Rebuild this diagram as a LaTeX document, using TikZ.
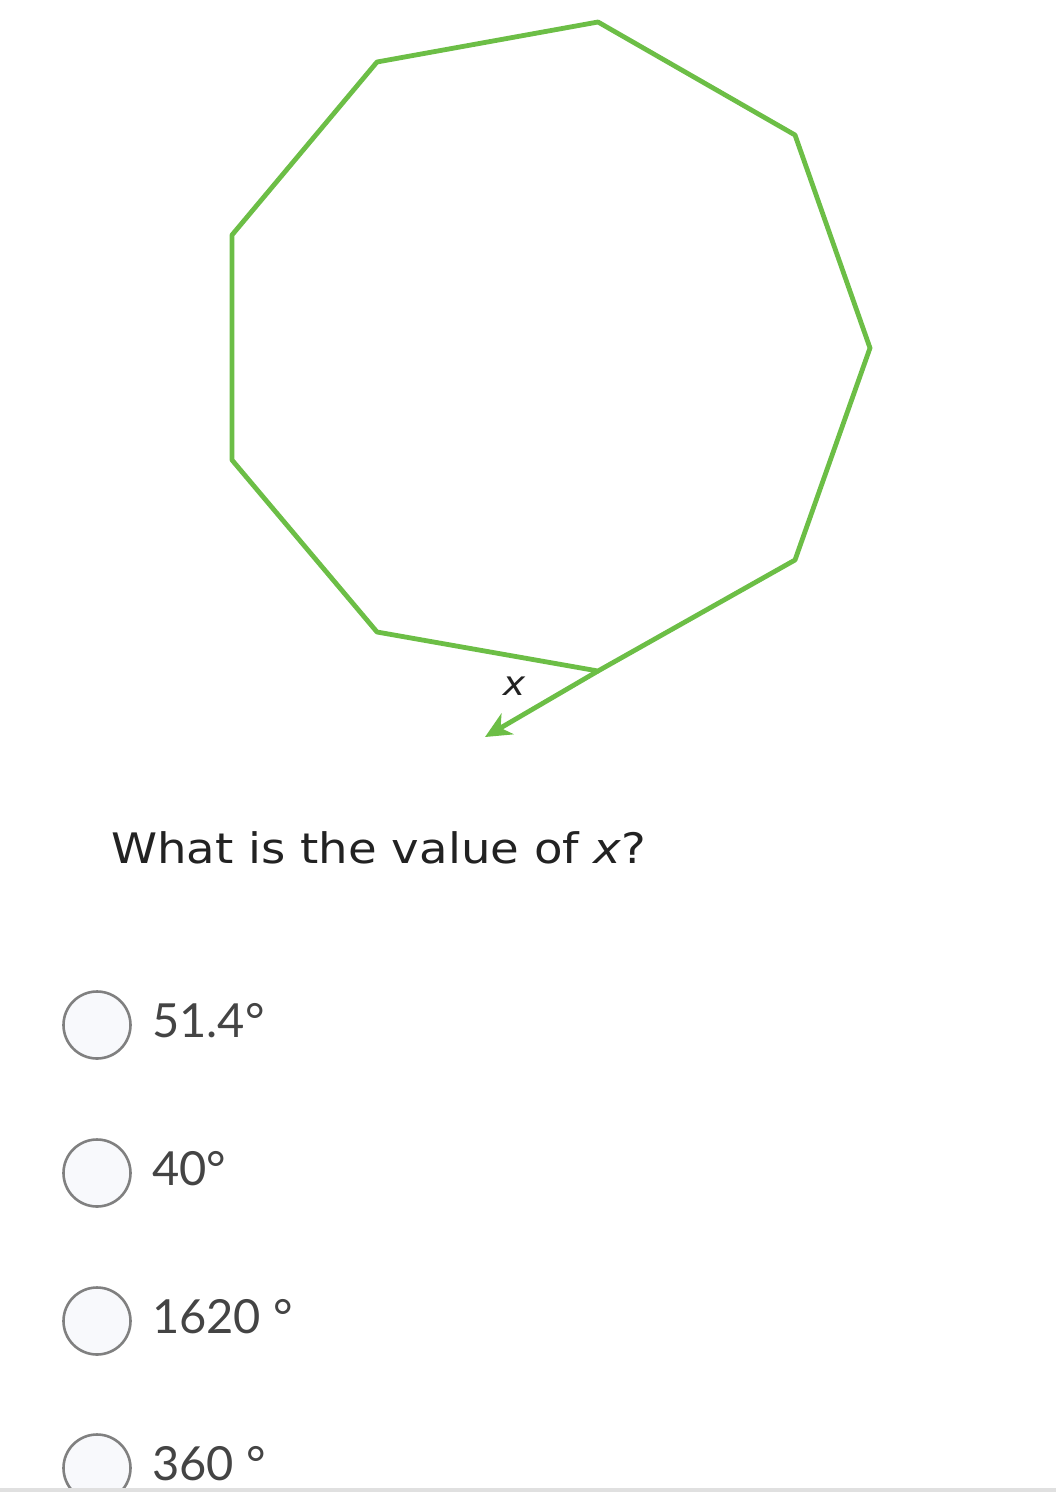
\documentclass[tikz,border=0pt]{standalone}
\usepackage{fontspec}
\setmainfont{DejaVu Sans}
\newfontfamily\qfont[FakeStretch=1.11]{DejaVu Sans}
\newfontfamily\lato{Lato}
\usetikzlibrary{arrows.meta}
\definecolor{polygreen}{RGB}{108,190,70}
\definecolor{qtext}{RGB}{34,34,34}
\definecolor{atext}{RGB}{68,68,68}
\definecolor{radiostroke}{RGB}{128,128,128}
\definecolor{radiofill}{RGB}{248,249,252}
\definecolor{rule}{RGB}{224,224,224}
\tikzset{
  polyedge/.style={draw=polygreen, line width=4.8pt, line join=round, line cap=round},
  radio/.style={circle, draw=radiostroke, fill=radiofill, line width=2.6pt, minimum size=67pt, inner sep=0pt},
  answer/.style={anchor=base west, inner sep=0pt, text=atext, font=\lato\fontsize{47}{56}\selectfont},
}
\begin{document}
\begin{tikzpicture}[x=1pt,y=-1pt]
\useasboundingbox (0,0) rectangle (1056,1494);
% nonagon vertices
\coordinate (v1) at (598,22);
\coordinate (v2) at (795,135);
\coordinate (v3) at (870,348);
\coordinate (v4) at (795,560);
\coordinate (v5) at (598,671);
\coordinate (v6) at (377,632);
\coordinate (v7) at (232,460);
\coordinate (v8) at (232,235);
\coordinate (v9) at (377,62);
\coordinate (tip) at (485,737);
\draw[polyedge] (v1) -- (v2) -- (v3) -- (v4) -- (v5) -- (v6) -- (v7) -- (v8) -- (v9) -- cycle;
\draw[polyedge, line cap=butt, -{Stealth[length=26pt,width=24pt,inset=8pt]}] (v5) -- (tip);
\node[text=qtext, font=\qfont\fontsize{34}{40}\selectfont\itshape, inner sep=0pt] (xlab) at (514,686) {x};
% question
\node[anchor=base west, inner sep=0pt, text=qtext, font=\qfont\fontsize{42}{50}\selectfont] (q) at (111,863) {What is the value of \textit{x}?};
% answers
\node[radio] (r1) at (97,1025) {};
\node[answer] (a1) at (152,1037) {51.4°};
\node[radio] (r2) at (97,1173) {};
\node[answer] (a2) at (152,1185) {40°};
\node[radio] (r3) at (97,1321) {};
\node[answer] (a3) at (152,1333) {1620 °};
\begin{scope}
\clip (0,0) rectangle (1056,1488);
\node[radio] (r4) at (97,1468) {};
\end{scope}
\node[answer] (a4) at (152,1480) {360 °};
\fill[rule] (0,1488) rectangle (1056,1492);
\end{tikzpicture}
\end{document}
